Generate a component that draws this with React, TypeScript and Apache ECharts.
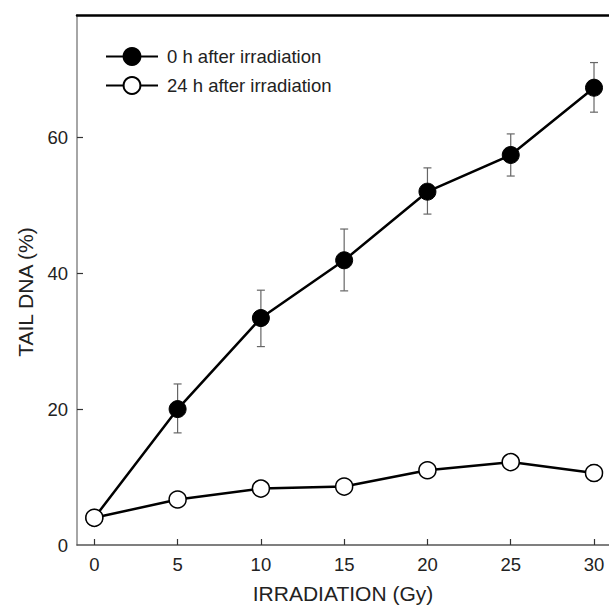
import React, { useEffect, useRef } from "react";
import * as echarts from "echarts";

const doses = [0, 5, 10, 15, 20, 25, 30];
const tail0h = [4.0, 20.0, 33.4, 41.9, 52.0, 57.4, 67.3];
const err0hLow = [null, 16.5, 29.2, 37.4, 48.7, 54.3, 63.7];
const err0hHigh = [null, 23.7, 37.5, 46.5, 55.5, 60.5, 71.0];
const tail24h = [4.0, 6.7, 8.3, 8.6, 11.0, 12.2, 10.6];
const err24hLow = [null, null, null, null, null, null, 9.4];
const err24hHigh = [null, null, null, null, null, null, 11.8];
const xTicks = [0, 5, 10, 15, 20, 25, 30];
const yTicks = [0, 20, 40, 60];
const seriesNames = ["0 h after irradiation", "24 h after irradiation"];

const FONT = "'Liberation Sans', Arial, sans-serif";

export default function App() {
  const ref = useRef<HTMLDivElement>(null);
  useEffect(() => {
    if (!ref.current) return;
    const chart = echarts.init(ref.current, null, { renderer: "svg" });
    const errData: any[] = [];
    doses.forEach((d, i) => {
      if (err0hLow[i] != null) errData.push([d, err0hLow[i], err0hHigh[i]]);
      if (err24hLow[i] != null) errData.push([d, err24hLow[i], err24hHigh[i]]);
    });
    const option: any = {
      animation: false,
      backgroundColor: "#fff",
      grid: { left: 77, top: 15, right: 0, bottom: 61, containLabel: false },
      legend: {
        orient: "vertical",
        left: 100,
        top: 42,
        itemWidth: 52,
        itemHeight: 21,
        itemGap: 10,
        textStyle: { fontFamily: FONT, fontSize: 18.5, color: "#222", padding: [0, 0, 0, 4] },
        data: seriesNames,
      },
      xAxis: [
        {
          type: "value",
          min: -1.04,
          max: 30.9,
          name: "IRRADIATION (Gy)",
          nameLocation: "middle",
          nameGap: 38,
          nameTextStyle: { fontFamily: FONT, fontSize: 21, color: "#222" },
          axisLine: { show: true, onZero: false, lineStyle: { color: "#555", width: 1.5 } },
          axisTick: { show: true, inside: true, length: 6, customValues: xTicks, lineStyle: { color: "#333", width: 1.2 } },
          axisLabel: { customValues: xTicks, margin: 10, fontFamily: FONT, fontSize: 18.5, color: "#222" },
          splitLine: { show: false },
        },
        {
          type: "value",
          position: "top",
          min: -1.04,
          max: 30.9,
          axisLine: { show: true, onZero: false, lineStyle: { color: "#000", width: 2.5 } },
          axisTick: { show: false },
          axisLabel: { show: false },
          splitLine: { show: false },
        },
      ],
      yAxis: [
        {
          type: "value",
          min: 0,
          max: 78,
          name: "TAIL DNA (%)",
          nameLocation: "middle",
          nameGap: 41,
          nameTextStyle: { fontFamily: FONT, fontSize: 21, color: "#222", padding: [0, 24, 0, 0] },
          axisLine: { show: true, onZero: false, lineStyle: { color: "#888", width: 1.5 } },
          axisTick: { show: true, inside: true, length: 6, customValues: [20, 40, 60], lineStyle: { color: "#333", width: 1.2 } },
          axisLabel: { customValues: yTicks, margin: 9, fontFamily: FONT, fontSize: 18.5, color: "#222" },
          splitLine: { show: false },
        },
        {
          type: "value",
          position: "right",
          min: 0,
          max: 78,
          axisLine: { show: true, onZero: false, lineStyle: { color: "#ccc", width: 1 } },
          axisTick: { show: false },
          axisLabel: { show: false },
          splitLine: { show: false },
        },
      ],
      series: [
        {
          type: "custom",
          name: "err",
          xAxisIndex: 0,
          yAxisIndex: 0,
          z: 1,
          clip: false,
          data: errData,
          renderItem: (params: any, api: any) => {
            const x = api.value(0);
            const lo = api.value(1);
            const hi = api.value(2);
            const p1 = api.coord([x, hi]);
            const p2 = api.coord([x, lo]);
            const w = 4;
            const style = { stroke: "#666", lineWidth: 1.2 };
            return {
              type: "group",
              children: [
                { type: "line", shape: { x1: p1[0], y1: p1[1], x2: p2[0], y2: p2[1] }, style },
                { type: "line", shape: { x1: p1[0] - w, y1: p1[1], x2: p1[0] + w, y2: p1[1] }, style },
                { type: "line", shape: { x1: p2[0] - w, y1: p2[1], x2: p2[0] + w, y2: p2[1] }, style },
              ],
            };
          },
        },
        {
          type: "line",
          name: seriesNames[0],
          z: 3,
          data: doses.map((d, i) => [d, tail0h[i]]),
          symbol: "circle",
          symbolSize: 17,
          lineStyle: { color: "#000", width: 2.5 },
          itemStyle: { color: "#000", borderColor: "#000", borderWidth: 1 },
        },
        {
          type: "line",
          name: seriesNames[1],
          z: 4,
          data: doses.map((d, i) => [d, tail24h[i]]),
          symbol: "circle",
          symbolSize: 17,
          lineStyle: { color: "#000", width: 2.5 },
          itemStyle: { color: "#fff", borderColor: "#000", borderWidth: 1.5 },
        },
      ],
    };
    chart.setOption(option);
    return () => chart.dispose();
  }, []);
  return (
    <div
      ref={ref}
      style={{ position: "absolute", left: 0, top: 0, width: 609, height: 609 }}
    />
  );
}
